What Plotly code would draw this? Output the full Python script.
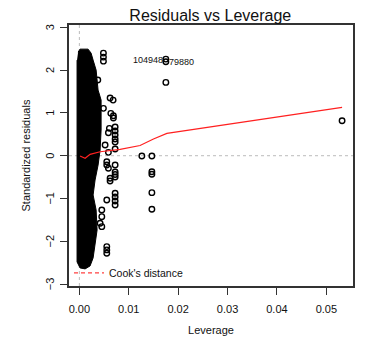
import plotly.graph_objects as go

# ---- data ----
# outline of the dense black cloud of points (leverage, std. residual)
cloud_lev = [-0.00026, 0.00014, 0.00176, 0.00237, 0.00278, 0.00339, 0.00379, 0.00440,
             0.00440, 0.00420, 0.00379, 0.00318, 0.00278, 0.00339, 0.00359, 0.00318,
             0.00278, 0.00217, 0.00116, 0.00014, -0.00047, -0.00047]
cloud_res = [2.417, 2.487, 2.487, 2.394, 2.231, 1.998, 1.531, 1.298,
             0.599, 0.133, -0.217, -0.566, -0.916, -1.266, -1.732, -2.082,
             -2.385, -2.571, -2.641, -2.618, -2.478, 2.231]

# individual points outside the cloud
pt_lev = [0.00487, 0.00487, 0.00487, 0.00373, 0.00622, 0.00683, 0.00487, 0.00637,
          0.00689, 0.00689, 0.00608, 0.00724, 0.00724, 0.00724, 0.00724, 0.00724,
          0.00588, 0.00521, 0.00724, 0.00588, 0.00555, 0.00555, 0.00588, 0.00622,
          0.00622, 0.00724, 0.00724, 0.00724, 0.00724, 0.00724, 0.00724, 0.00724,
          0.00724, 0.00555, 0.00454, 0.00454, 0.00420, 0.00454, 0.00555, 0.00555,
          0.00555, 0.01265, 0.01468, 0.01468, 0.01468, 0.01468, 0.01468, 0.01751,
          0.01751, 0.01751, 0.05319]
pt_res = [2.394, 2.301, 2.207, 1.765, 1.345, 1.298, 1.105, 0.988,
          0.932, 0.879, 0.639, 0.669, 0.576, 0.483, 0.389, 0.319,
          0.536, 0.249, 0.156, 0.079, -0.140, -0.217, -0.294, -0.527,
          -0.590, -0.380, -0.438, -0.497, -0.876, -0.963, -1.056, -1.149,
          -0.217, -1.033, -1.266, -1.422, -1.576, -1.655, -2.121, -2.198,
          -2.275, -0.007, -0.007, -0.373, -0.434, -0.862, -1.249, 2.254,
          2.191, 1.711, 0.816]

# smoother (red line)
smooth_lev = [0.00014, 0.00116, 0.00217, 0.00420, 0.00825, 0.01229, 0.01500, 0.01772, 0.05319]
smooth_res = [-0.007, -0.061, 0.033, 0.093, 0.149, 0.238, 0.389, 0.522, 1.128]

# labelled observations
lab_text = ["104948", "79880"]
lab_lev = [0.01751, 0.01751]
lab_res = [2.24, 2.19]
lab_side = ["left", "right"]

x_ticks = [0.00, 0.01, 0.02, 0.03, 0.04, 0.05]
x_ticktext = ["0.00", "0.01", "0.02", "0.03", "0.04", "0.05"]
y_ticks = [-3, -2, -1, 0, 1, 2, 3]
y_ticktext = ["\u22123", "\u22122", "\u22121", "0", "1", "2", "3"]

FONT = "Liberation Sans, Arial, Helvetica, sans-serif"

fig = go.Figure()

fig.add_trace(go.Scatter(
    x=cloud_lev, y=cloud_res, mode="lines", fill="toself",
    fillcolor="black", line=dict(color="black", width=1),
    showlegend=False, hoverinfo="skip"))

fig.add_trace(go.Scatter(
    x=pt_lev, y=pt_res, mode="markers",
    marker=dict(symbol="circle-open", size=5.5, color="black", line=dict(width=1.4)),
    showlegend=False))

fig.add_trace(go.Scatter(
    x=smooth_lev, y=smooth_res, mode="lines",
    line=dict(color="#ff2020", width=1.2), showlegend=False))

fig.add_trace(go.Scatter(
    x=[None], y=[None], mode="lines", name="Cook's distance",
    line=dict(color="#ff4040", width=1.2, dash="4px,3px"), showlegend=True))

for t, lx, ly, side in zip(lab_text, lab_lev, lab_res, lab_side):
    fig.add_annotation(x=lx, y=ly, text=t, showarrow=False,
                       xanchor="right" if side == "left" else "left",
                       xshift=-1 if side == "left" else 1,
                       font=dict(family=FONT, size=9, color="#111"))

# y tick labels (rotated, R style)
for tv, tt in zip(y_ticks, y_ticktext):
    fig.add_annotation(text=tt, xref="paper", yref="y", x=(50 - 69) / 284, y=tv,
                       xanchor="center", yanchor="middle", textangle=-90,
                       showarrow=False, font=dict(family=FONT, size=11, color="#111"))

# y-axis title
fig.add_annotation(text="Standardized residuals", xref="paper", yref="paper",
                   x=(25 - 69) / 284, y=0.5, xanchor="center", yanchor="middle",
                   textangle=-90, showarrow=False,
                   font=dict(family=FONT, size=11, color="#111"))

# dotted reference lines
fig.add_shape(type="line", xref="x", yref="paper", x0=0, x1=0, y0=0, y1=1,
              line=dict(color="#bbbbbb", width=1, dash="dot"), layer="below")
fig.add_shape(type="line", xref="paper", yref="y", x0=0, x1=1, y0=0, y1=0,
              line=dict(color="#bbbbbb", width=1, dash="dot"), layer="below")

fig.update_layout(
    width=366, height=341,
    margin=dict(l=69, r=13, t=25, b=55),
    paper_bgcolor="white", plot_bgcolor="white",
    font=dict(family=FONT, size=11, color="#111"),
    title=dict(text="Residuals vs Leverage", x=0.5745, xanchor="center",
               y=1 - 15 / 341, yanchor="middle",
               font=dict(family=FONT, size=16, color="#111")),
    legend=dict(x=0.0, xanchor="left", y=0.05, yanchor="middle",
                bgcolor="rgba(0,0,0,0)", font=dict(family=FONT, size=10.5, color="#111"),
                itemwidth=30),
    xaxis=dict(range=[-0.0021, 0.0554], tickvals=x_ticks, ticktext=x_ticktext,
               showgrid=False, zeroline=False, showline=True, mirror=True,
               linecolor="#333", linewidth=1.5, ticks="outside", ticklen=7,
               tickcolor="#333", tickwidth=1, ticklabelstandoff=5, automargin=False,
               title=dict(text="Leverage", standoff=12,
                          font=dict(family=FONT, size=11))),
    yaxis=dict(range=[-3.04, 3.05], tickvals=y_ticks, showticklabels=False,
               showgrid=False, zeroline=False, showline=True, mirror=True,
               linecolor="#333", linewidth=1.5, ticks="outside", ticklen=7,
               tickcolor="#333", tickwidth=1, automargin=False),
)

fig.write_html("out.html")
